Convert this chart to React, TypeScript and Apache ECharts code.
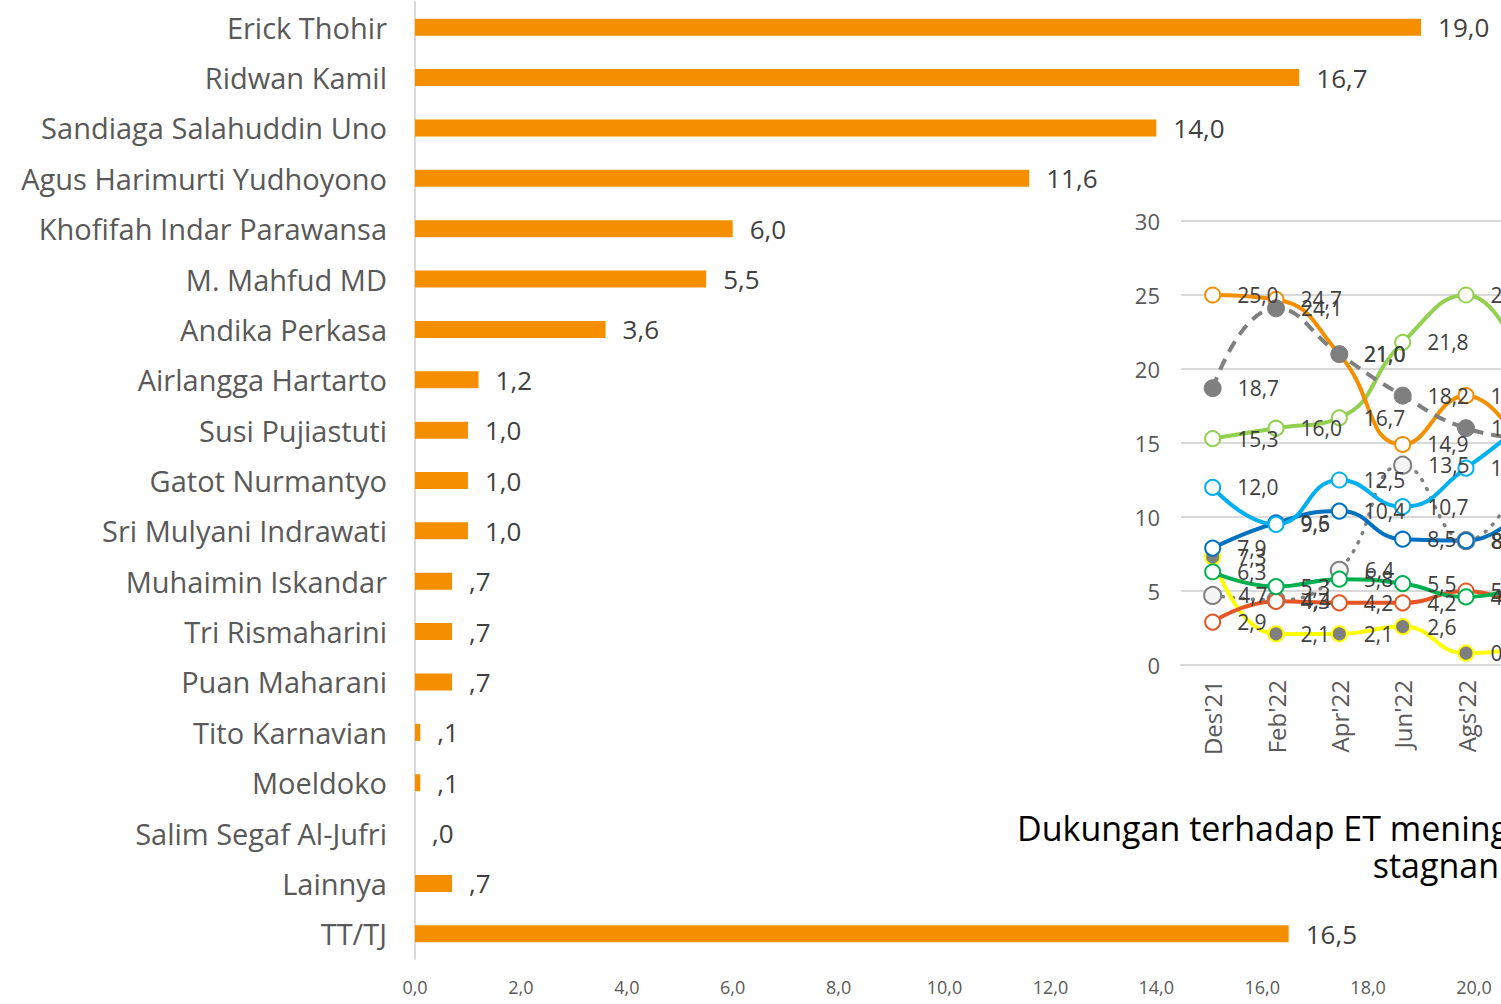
import React, { useEffect, useRef } from "react";
import * as echarts from "echarts";

const candidates = [
  "Erick Thohir",
  "Ridwan Kamil",
  "Sandiaga Salahuddin Uno",
  "Agus Harimurti Yudhoyono",
  "Khofifah Indar Parawansa",
  "M. Mahfud MD",
  "Andika Perkasa",
  "Airlangga Hartarto",
  "Susi Pujiastuti",
  "Gatot Nurmantyo",
  "Sri Mulyani Indrawati",
  "Muhaimin Iskandar",
  "Tri Rismaharini",
  "Puan Maharani",
  "Tito Karnavian",
  "Moeldoko",
  "Salim Segaf Al-Jufri",
  "Lainnya",
  "TT/TJ",
];
const support = [19.0, 16.7, 14.0, 11.6, 6.0, 5.5, 3.6, 1.2, 1.0, 1.0, 1.0, 0.7, 0.7, 0.7, 0.1, 0.1, 0.0, 0.7, 16.5];

const months = ["Des'21", "Feb'22", "Apr'22", "Jun'22", "Ags'22", "Okt'22"];
const trendOrange = [25.0, 24.7, 21.0, 14.9, 18.2, 13.5];
const trendGrayDashed = [18.7, 24.1, 21.0, 18.2, 16.0, 15.3];
const trendLightGreen = [15.3, 16.0, 16.7, 21.8, 25.0, 19.0];
const trendCyan = [12.0, 9.5, 12.5, 10.7, 13.3, 16.7];
const trendBlue = [7.9, 9.6, 10.4, 8.5, 8.4, 11.0];
const trendGrayDotted = [4.7, 4.4, 6.4, 13.5, 8.4, 14.0];
const trendGreen = [6.3, 5.3, 5.8, 5.5, 4.6, 5.5];
const trendRed = [2.9, 4.3, 4.2, 4.2, 5.0, 3.6];
const trendYellow = [7.3, 2.1, 2.1, 2.6, 0.8, 1.2];

const titleLine1 = "Dukungan terhadap ET mening";
const titleLine2 = "stagnan";

const FONT = "Open Sans";

const barFmt = (v: number) => {
  const s = v.toFixed(1).replace(".", ",");
  return s.startsWith("0") ? s.slice(1) : s;
};
const lineFmt = (v: number) => v.toFixed(1).replace(".", ",");

function lineSeries(
  name: string,
  data: number[],
  color: string,
  kind: "open" | "dashed" | "dotted" | "yellow"
) {
  const base: any = {
    name,
    type: "line",
    xAxisIndex: 1,
    yAxisIndex: 1,
    data,
    smooth: 0.5,
    symbol: "circle",
    symbolSize: 15,
    lineStyle: { color, width: 4 },
    itemStyle: { color: "#ffffff", borderColor: color, borderWidth: 2 },
    label: {
      show: true,
      position: "right",
      distance: 16,
      fontFamily: FONT,
      fontSize: 21,
      color: "#404040",
      formatter: (p: any) => lineFmt(p.value),
    },
  };
  if (kind === "dashed") {
    base.lineStyle = { color, width: 4, type: [12, 8] };
    base.itemStyle = { color: "#7f7f7f", borderColor: "#7f7f7f", borderWidth: 1 };
    base.symbolSize = 17;
  } else if (kind === "dotted") {
    base.lineStyle = { color, width: 3.5, type: [1, 9], cap: "round" };
    base.itemStyle = { color: "#f4f4f4", borderColor: "#7f7f7f", borderWidth: 2 };
    base.symbolSize = 17;
  } else if (kind === "yellow") {
    base.itemStyle = { color: "#7f7f7f", borderColor: color, borderWidth: 2 };
  }
  return base;
}

export default function App() {
  const ref = useRef<HTMLDivElement>(null);
  useEffect(() => {
    if (!ref.current) return;
    const chart = echarts.init(ref.current, null, { renderer: "svg" });
    chart.setOption({
      animation: false,
      backgroundColor: "#ffffff",
      grid: [
        { left: 415, top: 2, width: 1059, height: 957 },
        { left: 1181, top: 221, width: 380, height: 444 },
      ],
      xAxis: [
        {
          gridIndex: 0,
          type: "value",
          min: 0,
          max: 20,
          interval: 2,
          axisLine: { show: false },
          axisTick: { show: false },
          splitLine: { show: false },
          axisLabel: {
            fontFamily: FONT,
            fontSize: 18,
            color: "#595959",
            margin: 19,
            formatter: (v: number) => v.toFixed(1).replace(".", ","),
          },
        },
        {
          gridIndex: 1,
          type: "category",
          data: months,
          boundaryGap: true,
          axisLine: { show: true, lineStyle: { color: "#d9d9d9", width: 2 } },
          axisTick: { show: false },
          axisLabel: {
            interval: 0,
            rotate: 90,
            margin: 15,
            fontFamily: FONT,
            fontSize: 24,
            color: "#595959",
          },
        },
      ],
      yAxis: [
        {
          gridIndex: 0,
          type: "category",
          data: candidates,
          inverse: true,
          axisLine: { show: true, lineStyle: { color: "#d9d9d9", width: 2 } },
          axisTick: { show: false },
          axisLabel: {
            fontFamily: FONT,
            fontSize: 29,
            color: "#595959",
            margin: 28,
          },
        },
        {
          gridIndex: 1,
          type: "value",
          min: 0,
          max: 30,
          interval: 5,
          axisLine: { show: false },
          axisTick: { show: false },
          splitLine: { show: true, lineStyle: { color: "#d9d9d9", width: 2 } },
          axisLabel: {
            fontFamily: FONT,
            fontSize: 22,
            color: "#595959",
            margin: 21,
          },
        },
      ],
      series: [
        {
          type: "bar",
          xAxisIndex: 0,
          yAxisIndex: 0,
          data: support,
          barWidth: 17,
          itemStyle: { color: "#F68F00" },
          label: {
            show: true,
            position: "right",
            distance: 17,
            fontFamily: FONT,
            fontSize: 26,
            color: "#404040",
            formatter: (p: any) => barFmt(p.value),
          },
        },
        lineSeries("Seri A", trendGrayDotted, "#7f7f7f", "dotted"),
        lineSeries("Seri B", trendYellow, "#FFFF00", "yellow"),
        lineSeries("Seri C", trendRed, "#E55624", "open"),
        lineSeries("Seri D", trendGreen, "#00B050", "open"),
        lineSeries("Seri E", trendBlue, "#0070C0", "open"),
        lineSeries("Seri F", trendCyan, "#00B0F0", "open"),
        lineSeries("Seri G", trendLightGreen, "#92D050", "open"),
        lineSeries("Seri H", trendOrange, "#F68F00", "open"),
        lineSeries("Seri I", trendGrayDashed, "#7f7f7f", "dashed"),
      ],
      graphic: [
        {
          type: "text",
          left: 1017,
          top: 811,
          style: { text: titleLine1, fontFamily: FONT, fontSize: 34, fill: "#000000" },
        },
        {
          type: "text",
          right: 101,
          top: 848,
          style: { text: titleLine2, fontFamily: FONT, fontSize: 34, fill: "#000000" },
        },
      ],
    });
    return () => chart.dispose();
  }, []);
  return (
    <div
      style={{
        position: "fixed",
        left: 0,
        top: 0,
        width: 1501,
        height: 1004,
        overflow: "hidden",
        background: "#ffffff",
      }}
    >
      <div ref={ref} style={{ width: 1600, height: 1004 }} />
    </div>
  );
}
